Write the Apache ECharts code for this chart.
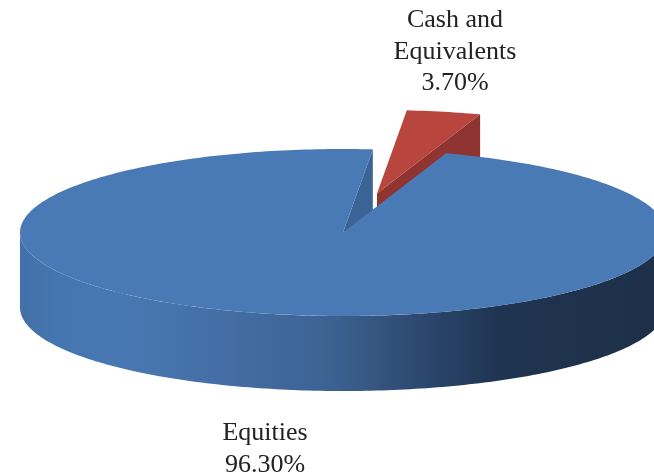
<!DOCTYPE html>
<html>
<head>
<meta charset="utf-8">
<style>html,body{margin:0;padding:0;background:#fff}#c{width:654px;height:476px}</style>
<script src="https://cdn.jsdelivr.net/npm/echarts@6/dist/echarts.min.js"></script>
</head>
<body>
<div id="c"></div>
<script>
const categories = ['Cash and\nEquivalents', 'Equities'];
const values = [3.70, 96.30];

// layout and styles
const firstSliceDeg = 5.3;
const CX = 343, CY = 232.5, RX = 323, RY = 83.5, DEPTH = 75;
const offsets = [[34, -39], [0, 0]];
const labelPos = [[455, 52], [265, 449]];
const topColors = ['#b8463f', '#4a7ab5'];
const wallColors = ['#8f3431', '#3b6396'];
const sideStops = [[0, '#4370a8'], [0.05, '#4575ae'], [0.15, '#4878b2'], [0.3, '#446fa6'], [0.48, '#3d6292'], [0.55, '#355680'], [0.62, '#2c4870'], [0.74, '#1f3451'], [1, '#1e3048']];

const total = values.reduce((a, b) => a + b, 0);
const starts = [];
values.reduce((acc, v, i) => { starts[i] = acc; return acc + v; }, 0);

function pt(deg, ox, oy, dz) {
  const t = deg * Math.PI / 180;
  return [CX + ox + RX * Math.sin(t), CY + oy - RY * Math.cos(t) + (dz || 0)];
}
function arc(a, b, ox, oy, dz) {
  const pts = [], n = Math.max(2, Math.ceil(Math.abs(b - a)));
  for (let i = 0; i <= n; i++) pts.push(pt(a + (b - a) * i / n, ox, oy, dz));
  return pts;
}

const chart = echarts.init(document.getElementById('c'), null, { renderer: 'canvas' });
chart.setOption({
  animation: false,
  backgroundColor: '#ffffff',
  series: [{
    type: 'custom',
    coordinateSystem: 'none',
    silent: true,
    data: values.map((v, i) => ({ name: categories[i], value: v })),
    renderItem: function (params, api) {
      const i = params.dataIndex;
      const v = api.value(0);
      const a0 = firstSliceDeg + starts[i] / total * 360;
      const a1 = a0 + v / total * 360;
      const [ox, oy] = offsets[i];
      const children = [];
      // radial cut wall at the end of the slice
      children.push({
        type: 'polygon',
        shape: { points: [[CX + ox, CY + oy], pt(a1, ox, oy), pt(a1, ox, oy, DEPTH), [CX + ox, CY + oy + DEPTH]] },
        style: { fill: wallColors[i] }
      });
      // outer side wall, front half only (angles 90..270 mod 360)
      const f0 = Math.max(a0, 90), f1 = Math.min(a1, 270);
      if (f1 > f0) {
        const up = arc(f0, f1, ox, oy, 0), low = arc(f1, f0, ox, oy, DEPTH);
        children.push({
          type: 'polygon',
          shape: { points: up.concat(low) },
          style: {
            fill: new echarts.graphic.LinearGradient(CX - RX, 0, CX + RX, 0,
              sideStops.map(s => ({ offset: s[0], color: s[1] })), true)
          }
        });
      }
      // top face
      children.push({
        type: 'polygon',
        shape: { points: [[CX + ox, CY + oy]].concat(arc(a0, a1, ox, oy, 0)) },
        style: { fill: topColors[i] }
      });
      // label
      children.push({
        type: 'text',
        style: {
          x: labelPos[i][0], y: labelPos[i][1],
          text: categories[i] + '\n' + v.toFixed(2) + '%',
          fill: '#222222',
          font: '26px "Liberation Serif"',
          lineHeight: 31.5,
          align: 'center', verticalAlign: 'middle'
        }
      });
      return { type: 'group', children: children };
    }
  }]
});
</script>
</body>
</html>
